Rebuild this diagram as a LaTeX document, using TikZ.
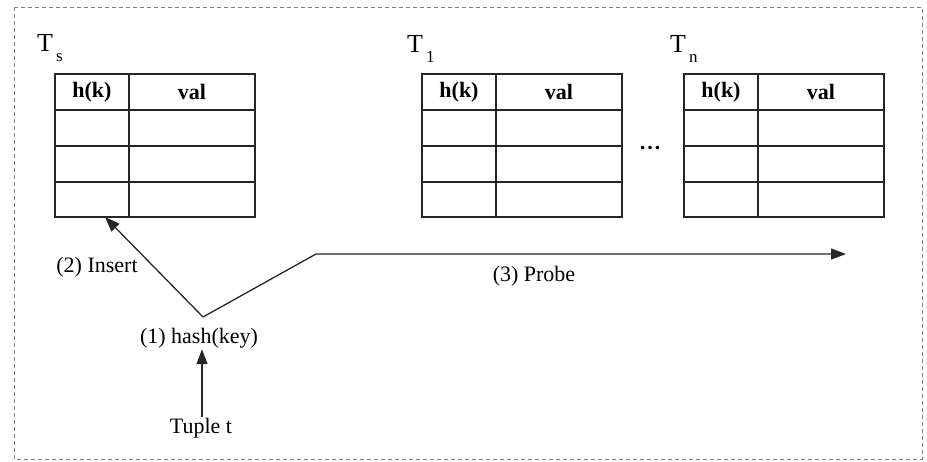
\documentclass[tikz,border=0pt]{standalone}
\usepackage{fontspec}
\setmainfont{Liberation Serif}
\usetikzlibrary{arrows.meta}

\tikzset{
  tline/.style={draw=black!85, line width=1.4pt},
  arr/.style={draw=black!85, line width=1.3pt, -{Triangle[length=15pt,width=11pt]}},
  lbl/.style={inner sep=1pt, font=\fontsize{22}{26}\selectfont},
  hdr/.style={inner sep=0pt, font=\fontsize{22}{26}\selectfont\bfseries},
  tname/.style={inner sep=0pt, anchor=base west},
  % one hash table: header row plus three empty rows
  hashtable/.pic={
    \node[minimum width=200pt, minimum height=143pt, inner sep=0pt, outer sep=0pt,
          anchor=north west] (-box) at (0,0) {};
    \draw[tline] (0,0) rectangle (200,143);
    \draw[tline] (74,0) -- (74,143);
    \foreach \r in {36,72,108} \draw[tline] (0,\r) -- (200,\r);
    \node[hdr] (-hk) at (37,18) {h(k)};
    \node[hdr] (-val) at (137,18) {val};
  }
}

\newcommand{\tabname}[1]{{\fontsize{26}{30}\selectfont T}\kern3pt\raisebox{-10pt}{\fontsize{17}{19}\selectfont #1}}

\begin{document}
\begin{tikzpicture}[x=1pt, y=-1pt]
  \useasboundingbox (0,0) rectangle (927,461);

  % dashed frame
  \draw[draw=black!50, line width=1pt, dash pattern=on 4pt off 3pt] (14,7) rectangle (922,459);

  % tables
  \pic (ts) at (55,74) {hashtable};
  \pic (t1) at (422,74) {hashtable};
  \pic (tn) at (684,74) {hashtable};

  \node[tname] (tsname) at (37,51) {\tabname{s}};
  \node[tname] (t1name) at (407,52) {\tabname{1}};
  \node[tname] (tnname) at (670,52) {\tabname{n}};

  \node[lbl] (dots) at (650,148) {\textbf{\dots}};

  % hashing and routing of the tuple
  \node[lbl] (hash) at (199,338) {(1) hash(key)};
  \node[lbl] (tuple) at (201,428) {Tuple t};
  \coordinate (split) at (203,317);
  \coordinate (bend) at (316,254);
  \coordinate (probeend) at (846,254);
  \coordinate (insertend) at ([xshift=-50pt]ts-box.south);

  \draw[arr] ([xshift=1pt]tuple.north) -- ([xshift=3pt]hash.south);
  \draw[arr] (split) -- (insertend);
  \draw[arr] (split) -- (bend) -- (probeend);

  \node[lbl] (insert) at (97,267) {(2) Insert};
  \node[lbl] (probe) at (534,276) {(3) Probe};
\end{tikzpicture}
\end{document}
